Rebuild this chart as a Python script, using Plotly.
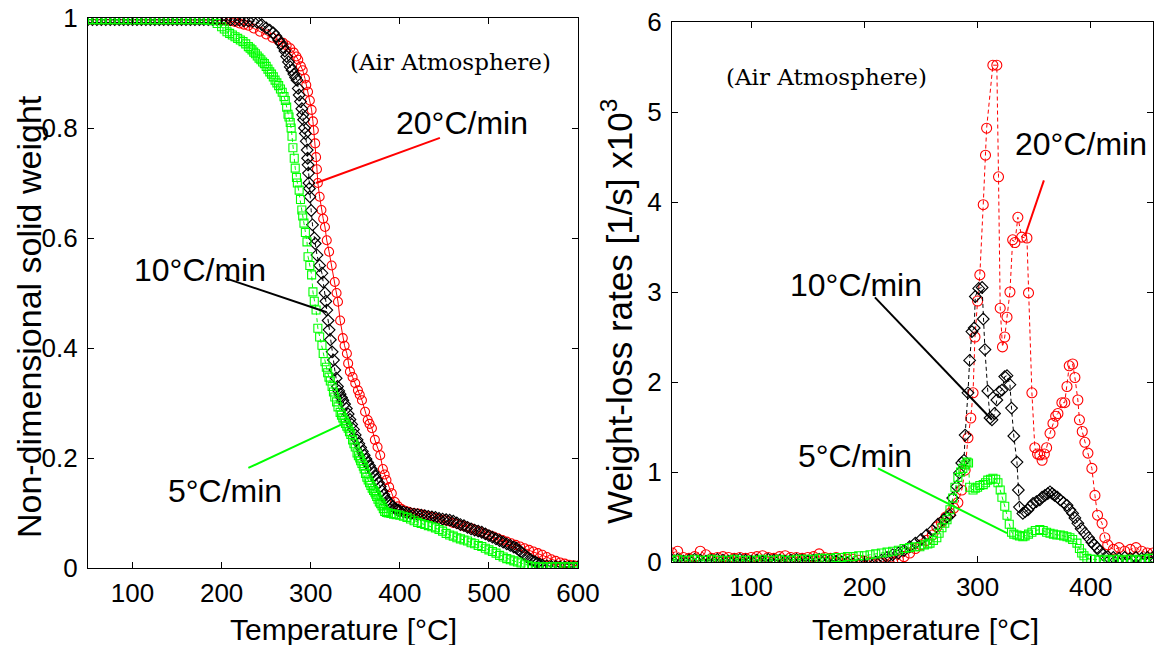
import plotly.graph_objects as go

# ---------------- Left panel: TGA (non-dimensional solid weight) ----------------
red_T_left = [50,55,60,65,70,75,80,85,90,95,100,105,110,115,120,125,130,135,140,145,150,155,160,165,170,175,
              180,185,190,195,200,205,210,215,220,225,230,236,243,250,257,263,269,273,277,281,284,286,289,291,
              293.5,295,297,299,301,302.5,303.5,305,306,307,308,310,312,314,316,318,320.6,323.5,327,329,330.6,
              333,336,338,340.6,342,344,347,350,353,355,357.5,361,364,366,368.7,372,375,378,381,383,385,388,391,
              394.5,398,402,406,410,415,420,425,430,435,440,445,450,455,460,465,470,475,480,485,490,495,500,505,
              510,515,520,525,530,535,540,545,550,555,560,565,570,575,580,585,590,595,600]
red_W_left = [0.997,0.997,0.997,0.997,0.997,0.997,0.997,0.997,0.997,0.997,0.997,0.997,0.997,0.997,0.997,0.997,
              0.997,0.997,0.997,0.997,0.997,0.997,0.997,0.997,0.997,0.997,0.997,0.997,0.997,0.996,0.996,0.995,
              0.994,0.993,0.990,0.988,0.986,0.981,0.975,0.970,0.964,0.960,0.955,0.950,0.945,0.937,0.930,0.924,
              0.912,0.905,0.890,0.878,0.866,0.850,0.833,0.812,0.796,0.772,0.747,0.725,0.700,0.675,0.651,0.635,
              0.620,0.596,0.575,0.550,0.520,0.500,0.484,0.450,0.418,0.404,0.390,0.372,0.357,0.347,0.336,0.323,
              0.315,0.305,0.284,0.269,0.262,0.254,0.233,0.220,0.205,0.180,0.170,0.160,0.147,0.136,0.120,0.112,
              0.107,0.104,0.102,0.100,0.099,0.097,0.095,0.093,0.091,0.089,0.087,0.085,0.082,0.080,0.077,0.075,
              0.072,0.069,0.066,0.063,0.060,0.057,0.054,0.051,0.048,0.045,0.042,0.039,0.036,0.033,0.030,0.027,
              0.024,0.020,0.016,0.013,0.010,0.008,0.006,0.005,0.004]

black_T_left = [50,55,60,65,70,75,80,85,90,95,100,105,110,115,120,125,130,135,140,145,150,155,160,165,170,175,
                180,185,190,195,200,205,210,215,220,225,230,235,240,245,250,254,258,261,264,267,269,271,273,275,
                277,279,281,283,284.6,286,287,288.5,290,291,292,293,294,295,296,296.5,297,297.5,298,298.5,299,
                300.5,302,304,305,307,310,312.6,314,316,317,318,319.5,320.6,322,324,325.5,327,328.5,330,331.5,333,
                334.5,336,338,340,342,344,346,348,350,352,354,356,358,360,362,364,366,368,370,372,374,376,378,380,
                382,384,386,388,390,392,394,396,398,400,404,408,412,416,420,424,428,432,436,440,444,448,452,456,
                460,464,468,472,476,480,484,488,492,496,500,504,508,512,516,520,524,528,531,534,537,540,543,546,
                549,552,554,557,560,565,570,575,580,585,590,595,600]
black_W_left = [0.997,0.997,0.997,0.997,0.997,0.997,0.997,0.997,0.997,0.997,0.997,0.997,0.997,0.997,0.997,0.997,
                0.997,0.997,0.997,0.997,0.997,0.997,0.997,0.997,0.997,0.997,0.997,0.997,0.997,0.997,0.997,0.997,
                0.997,0.996,0.996,0.995,0.995,0.994,0.992,0.988,0.982,0.978,0.973,0.967,0.960,0.953,0.947,0.940,
                0.930,0.920,0.911,0.905,0.898,0.892,0.887,0.872,0.860,0.848,0.835,0.824,0.815,0.800,0.790,0.776,
                0.760,0.745,0.733,0.718,0.700,0.690,0.675,0.650,0.624,0.600,0.590,0.569,0.550,0.536,0.520,0.500,
                0.485,0.469,0.450,0.433,0.415,0.393,0.378,0.360,0.345,0.330,0.322,0.316,0.310,0.305,0.298,0.290,
                0.280,0.270,0.261,0.252,0.242,0.233,0.226,0.219,0.212,0.205,0.198,0.192,0.186,0.180,0.174,0.168,
                0.161,0.155,0.148,0.140,0.133,0.127,0.122,0.118,0.115,0.112,0.109,0.107,0.105,0.104,0.102,0.100,
                0.099,0.098,0.097,0.096,0.095,0.094,0.093,0.092,0.090,0.089,0.088,0.087,0.085,0.082,0.079,0.077,
                0.074,0.071,0.069,0.067,0.065,0.062,0.059,0.056,0.053,0.050,0.047,0.044,0.041,0.038,0.036,0.032,
                0.028,0.024,0.020,0.016,0.013,0.011,0.009,0.007,0.005,0.004,0.003,0.003,0.002,0.002,0.002,0.002,
                0.002]

green_T_left = [50,55,60,65,70,75,80,85,90,95,100,105,110,115,120,125,130,135,140,145,150,155,160,165,170,175,
                180,185,190,195,200,203,206,209,212,215,218,221,224,227,230,232,234,236,238,240,242,244,246,248,
                250,252,254,256,258,260,262,264,266,268,270,271.5,273,274.5,275.6,277,278,279,280,281.5,282.6,284,
                285,287,288.5,290,291,292.4,294,295.8,297,299,301,302.5,304,306,308,310,312.6,314,316,317.5,319,
                320.5,322,324,325.5,327,329,330.6,333,334.5,336,337.5,339,340.5,342,343.5,345,347,348.5,350,352,
                353.5,355,356,357.5,359,360,361.5,363,364.5,366,367.5,369,370.5,372,373,374,375.5,377,378.5,380,
                381.5,383,385,387,390,393,396,400,404,408,412,416,420,424,428,432,436,440,444,448,452,456,460,464,
                468,472,476,480,484,488,492,496,500,504,508,512,516,520,524,528,532,536,540,544,548,552,556,560,
                565,570,575,580,585,590,595,600]
green_W_left = [0.997,0.997,0.997,0.997,0.997,0.997,0.997,0.997,0.997,0.997,0.997,0.997,0.997,0.997,0.997,0.997,
                0.997,0.997,0.997,0.997,0.997,0.997,0.997,0.997,0.997,0.997,0.997,0.996,0.995,0.990,0.984,0.980,
                0.975,0.972,0.969,0.966,0.963,0.960,0.957,0.953,0.948,0.945,0.942,0.938,0.935,0.931,0.927,0.924,
                0.920,0.917,0.912,0.907,0.902,0.898,0.893,0.887,0.882,0.877,0.871,0.865,0.857,0.850,0.838,0.825,
                0.820,0.810,0.800,0.785,0.764,0.745,0.727,0.710,0.700,0.687,0.670,0.651,0.640,0.627,0.610,0.593,
                0.566,0.550,0.533,0.502,0.485,0.469,0.436,0.420,0.405,0.390,0.375,0.365,0.355,0.347,0.340,0.330,
                0.320,0.311,0.302,0.293,0.283,0.278,0.273,0.268,0.263,0.258,0.254,0.248,0.243,0.233,0.226,0.220,
                0.209,0.204,0.200,0.195,0.190,0.185,0.180,0.172,0.165,0.160,0.155,0.150,0.145,0.141,0.138,0.134,
                0.130,0.125,0.120,0.117,0.113,0.108,0.103,0.101,0.100,0.099,0.098,0.097,0.096,0.094,0.092,0.089,
                0.086,0.083,0.081,0.079,0.077,0.075,0.073,0.070,0.067,0.063,0.060,0.058,0.055,0.053,0.051,0.049,
                0.046,0.044,0.041,0.039,0.036,0.033,0.030,0.027,0.023,0.020,0.017,0.015,0.013,0.011,0.009,0.006,
                0.004,0.003,0.002,0.002,0.002,0.002,0.002,0.002,0.002,0.002,0.002,0.002,0.002]

# ---------------- Right panel: DTG (weight-loss rates x10^3) ----------------
red_T_right = [30,35,40,45,50,55,60,65,70,75,80,85,90,95,100,105,110,115,120,125,130,135,140,145,150,155,160,165,
               170,175,180,185,190,195,200,205,210,215,220,225,230,235,240,245,250,255,260,264,268,272,275.6,279,
               282.6,286,289,291.5,294,296,297.7,300,302,305,307,308,313.5,317,318.5,320,322,324,326,328.6,331,333,
               335.6,339,343.6,345,348,350.6,353,355,357,359,361,364,366.6,369,371,374.5,377,379,381,384,386,388.6,
               390,392.5,394.8,397.5,401,403.7,406,410,412.5,415,420,425,430,435,440,445,450,455]
red_R_right = [0.10,0.12,0.05,0.04,0.06,0.12,0.08,0.04,0.05,0.06,0.05,0.04,0.05,0.04,0.05,0.06,0.07,0.05,0.04,0.06,
               0.07,0.05,0.05,0.04,0.05,0.06,0.09,0.05,0.04,0.05,0.04,0.03,0.03,0.02,0.01,0.00,-0.02,-0.01,-0.03,
               0.00,0.03,0.06,0.10,0.15,0.19,0.24,0.30,0.39,0.44,0.50,0.54,0.60,0.66,0.80,1.02,1.38,1.60,1.88,2.50,
               2.90,3.19,3.97,4.52,4.82,5.52,5.52,4.28,2.82,2.39,2.50,2.72,3.00,3.58,3.55,3.83,3.61,3.60,2.99,1.88,
               1.27,1.20,1.19,1.13,1.20,1.27,1.43,1.54,1.62,1.65,1.77,1.77,1.95,2.18,2.20,2.05,1.80,1.58,1.45,1.33,
               1.21,1.04,0.74,0.52,0.43,0.27,0.19,0.14,0.16,0.12,0.14,0.16,0.12,0.10,0.10]

black_T_right = [30,35,40,45,50,55,60,65,70,75,80,85,90,95,100,105,110,115,120,125,130,135,140,145,150,155,160,165,
                 170,175,180,185,190,195,200,205,210,215,220,225,230,235,240,245,250,255,260,265,270,273,275.6,278,
                 281.6,284,286,288,289,291.5,293,295,297,298,301,304,305,306.5,309,311,312.7,315,317,319,321.5,324,
                 326,328.6,330,332,334.8,336,337,340,342,344.5,347,349,352,355,357,359.5,362,364,366,368,370.5,373,
                 376,379,381.5,384,386,388.6,391.5,394.8,398,401,403,405.5,408,411,415,420,425,430,435,440,445,450,455]
black_R_right = [0.02,0.03,0.01,0.02,0.03,0.02,0.01,0.02,0.03,0.02,0.01,0.02,0.03,0.02,0.01,0.02,0.01,0.03,0.02,0.02,
                 0.01,0.02,0.03,0.02,0.01,0.02,0.03,0.02,0.02,0.01,0.00,-0.01,-0.02,-0.03,-0.03,-0.02,0.00,0.02,0.05,
                 0.08,0.10,0.13,0.17,0.21,0.25,0.30,0.35,0.42,0.47,0.50,0.52,0.71,0.84,0.99,1.10,1.13,1.41,1.88,2.24,
                 2.56,2.60,2.95,3.04,3.05,2.70,2.36,1.90,1.60,1.58,1.65,1.80,1.89,1.91,2.06,2.07,1.97,1.71,1.40,1.11,
                 0.80,0.61,0.54,0.56,0.58,0.62,0.65,0.67,0.69,0.72,0.74,0.76,0.78,0.76,0.74,0.72,0.69,0.66,0.63,0.58,
                 0.54,0.49,0.43,0.37,0.32,0.27,0.22,0.19,0.16,0.12,0.08,0.06,0.05,0.04,0.05,0.04,0.05,0.04,0.05,0.05]

green_T_right = [30,35,40,45,50,55,60,65,70,75,80,85,90,95,100,105,110,115,120,125,130,135,140,145,150,155,160,165,
                 170,175,180,185,190,195,200,205,210,215,220,225,230,235,240,245,249,253,256,258,261,264,266,268.5,
                 271,273,275.6,278,280,282.6,285,287,289,290.6,292,293,296,298,300,302,305,307,309,311.5,313.6,316,
                 318,320,321.5,324,326,328,330,332,334.8,337,340,342,345,348,351,355,358,361,364,367,370,373,376,379,
                 381.6,384,387.8,390,392,394,396.6,400,404,408,412,416,420,424,428,432,436,440,444,448,452,455]
green_R_right = [0.02,0.03,0.02,0.02,0.03,0.02,0.02,0.03,0.02,0.02,0.02,0.03,0.02,0.02,0.02,0.02,0.03,0.02,0.02,0.03,
                 0.02,0.02,0.03,0.03,0.03,0.03,0.04,0.04,0.04,0.05,0.05,0.06,0.06,0.07,0.07,0.08,0.09,0.10,0.11,0.12,
                 0.13,0.15,0.16,0.17,0.17,0.19,0.20,0.21,0.24,0.27,0.32,0.38,0.43,0.47,0.58,0.71,0.83,0.94,1.00,1.04,
                 1.08,1.11,1.10,0.83,0.80,0.82,0.83,0.85,0.86,0.88,0.91,0.92,0.93,0.92,0.88,0.80,0.72,0.62,0.52,0.42,
                 0.33,0.31,0.30,0.29,0.28,0.29,0.31,0.33,0.35,0.36,0.35,0.33,0.32,0.31,0.30,0.30,0.29,0.28,0.27,0.25,
                 0.21,0.15,0.10,0.07,0.04,0.03,0.03,0.02,0.03,0.02,0.03,0.03,0.02,0.03,0.03,0.02,0.03,0.03,0.04,0.04]

left_xticks = [100, 200, 300, 400, 500, 600]
left_yticks = [0, 0.2, 0.4, 0.6, 0.8, 1]
left_yticklabels = ["0", "0.2", "0.4", "0.6", "0.8", "1"]
right_xticks = [100, 200, 300, 400]
right_yticks = [0, 1, 2, 3, 4, 5, 6]

RED, BLACK, GREEN = "#ff0000", "#000000", "#00ff00"
SANS = "Liberation Sans, Arial, sans-serif"
SERIF = "DejaVu Serif, serif"
W, H = 1157, 645

fig = go.Figure()


def add(x, y, color, symbol, dash, xa, ya, size):
    fig.add_trace(go.Scatter(
        x=x, y=y, mode="lines+markers", xaxis=xa, yaxis=ya, showlegend=False,
        line=dict(color=color, width=1, dash=dash),
        marker=dict(symbol=symbol, size=size, color=color, line=dict(color=color, width=1.1)),
    ))


add(red_T_left, red_W_left, RED, "circle-open", "solid", "x", "y", 9)
add(black_T_left, black_W_left, BLACK, "diamond-open", "4px,3px", "x", "y", 9)
add(green_T_left, green_W_left, GREEN, "square-open", "4px,3px", "x", "y", 8)
add(red_T_right, red_R_right, RED, "circle-open", "4px,3px", "x2", "y2", 10)
add(black_T_right, black_R_right, BLACK, "diamond-open", "4px,3px", "x2", "y2", 9)
add(green_T_right, green_R_right, GREEN, "square-open", "4px,3px", "x2", "y2", 8)

axis_common = dict(showline=True, linecolor="black", linewidth=1.3, mirror="ticks", ticks="inside",
                   ticklen=6, tickwidth=1.3, tickcolor="black", showgrid=False, zeroline=False,
                   automargin=False, tickfont=dict(family=SANS, size=26, color="black"))

fig.update_layout(
    width=W, height=H, paper_bgcolor="white", plot_bgcolor="white",
    margin=dict(l=0, r=0, t=0, b=0, pad=0, autoexpand=False),
    xaxis=dict(axis_common, domain=[88 / W, 578 / W], range=[50, 600], anchor="y",
               tickvals=left_xticks, ticklabelstandoff=2),
    yaxis=dict(axis_common, domain=[1 - 568 / H, 1 - 18 / H], range=[0, 1], anchor="x",
               tickvals=left_yticks, ticktext=left_yticklabels, ticklabelstandoff=4),
    xaxis2=dict(axis_common, domain=[672 / W, 1153 / W], range=[30, 455], anchor="y2",
                tickvals=right_xticks, ticklabelstandoff=2),
    yaxis2=dict(axis_common, domain=[1 - 562 / H, 1 - 22 / H], range=[0, 6], anchor="x2",
                tickvals=right_yticks, ticklabelstandoff=4),
)

TITLE_X = dict(family=SANS, size=30, color="black")
ann_font = dict(family=SANS, size=32, color="black")
serif_font = dict(family=SERIF, size=23, color="black")


def paper(px, py):
    return dict(x=px / W, y=1 - py / H, xref="paper", yref="paper",
                xanchor="center", yanchor="middle", showarrow=False)


annotations = [
    dict(paper(343, 629), text="Temperature [°C]", font=TITLE_X),
    dict(paper(925, 629), text="Temperature [°C]", font=TITLE_X),
    dict(paper(29, 317), text="Non-dimensional solid weight", textangle=-90,
         font=dict(family=SANS, size=34, color="black")),
    dict(paper(617, 312), text="Weight-loss rates [1/s] x10<sup>3</sup>", textangle=-90,
         font=dict(family=SANS, size=35, color="black")),
    dict(paper(451, 62), text="(Air Atmosphere)", font=serif_font),
    dict(paper(826, 77), text="(Air Atmosphere)", font=serif_font),
    dict(text="20°C/min", x=470, y=0.81, xref="x", yref="y", font=ann_font, showarrow=False),
    dict(text="10°C/min", x=176, y=0.542, xref="x", yref="y", font=ann_font, showarrow=False),
    dict(text="5°C/min", x=204, y=0.14, xref="x", yref="y", font=ann_font, showarrow=False),
    dict(text="20°C/min", x=391, y=4.64, xref="x2", yref="y2", font=ann_font, showarrow=False),
    dict(text="10°C/min", x=193, y=3.08, xref="x2", yref="y2", font=ann_font, showarrow=False),
    dict(text="5°C/min", x=192, y=1.18, xref="x2", yref="y2", font=ann_font, showarrow=False),
]
fig.update_layout(annotations=annotations)

shapes = [
    dict(type="line", xref="x", yref="y", x0=445, y0=0.782, x1=306, y1=0.70, line=dict(color=RED, width=2)),
    dict(type="line", xref="x", yref="y", x0=204, y0=0.527, x1=318, y1=0.465, line=dict(color=BLACK, width=2)),
    dict(type="line", xref="x", yref="y", x0=230, y0=0.182, x1=336, y1=0.262, line=dict(color=GREEN, width=2)),
    dict(type="line", xref="x2", yref="y2", x0=358.6, y0=4.24, x1=341.8, y1=3.62, line=dict(color=RED, width=2)),
    dict(type="line", xref="x2", yref="y2", x0=209.3, y0=2.94, x1=312.7, y1=1.58, line=dict(color=BLACK, width=2)),
    dict(type="line", xref="x2", yref="y2", x0=212, y0=1.04, x1=326, y1=0.32, line=dict(color=GREEN, width=2)),
]
fig.update_layout(shapes=shapes)

fig.write_html("out.html")
